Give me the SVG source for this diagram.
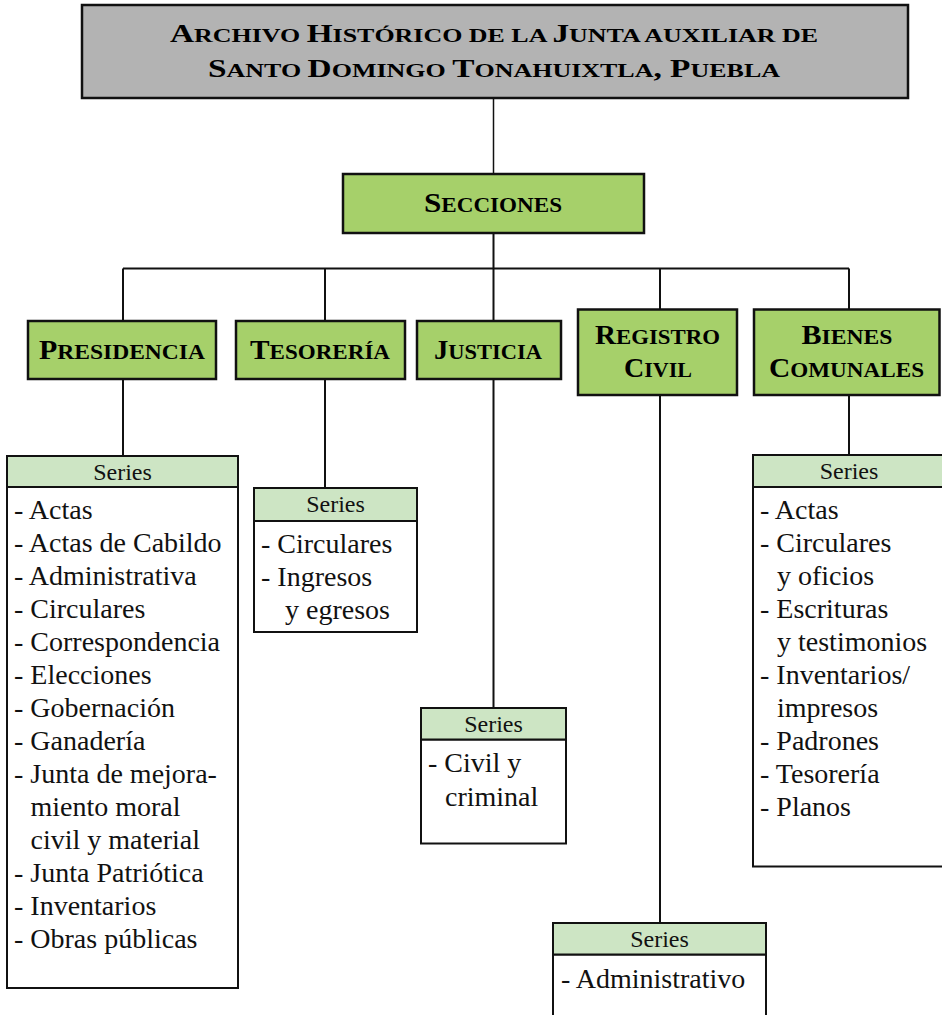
<svg xmlns="http://www.w3.org/2000/svg" width="942" height="1015" viewBox="0 0 942 1015">
<style>
.lbl{font-family:"Liberation Serif","Times New Roman",serif;font-weight:bold;fill:#000;text-anchor:middle}
.cap{font-size:28px}
.sm{font-size:22px}
.tcap{font-size:25px}
.tsm{font-size:19.5px}
.node{fill:#a6d06a;stroke:#111;stroke-width:2.5}
.title{fill:#b3b3b3;stroke:#111;stroke-width:2.5}
.shead{fill:#cde5c4;stroke:#111;stroke-width:2}
.sbody{fill:#fff;stroke:#111;stroke-width:2}
.st{font-family:"Liberation Serif","Times New Roman",serif;font-size:24px;fill:#111;text-anchor:middle}
.it{font-family:"Liberation Serif","Times New Roman",serif;font-size:28px;fill:#111}
.con{stroke:#111;stroke-width:2;fill:none}
</style>
<g id="connectors">
<line class="con" x1="493.5" y1="98" x2="493.5" y2="174" style="stroke-width:1.5"/>
<line class="con" x1="493.5" y1="233" x2="493.5" y2="321"/>
<line class="con" x1="123" y1="268.5" x2="849" y2="268.5"/>
<line class="con" x1="123" y1="268.5" x2="123" y2="321"/>
<line class="con" x1="325" y1="268.5" x2="325" y2="321"/>
<line class="con" x1="660" y1="268.5" x2="660" y2="309.5"/>
<line class="con" x1="849" y1="268.5" x2="849" y2="309.5"/>
<line class="con" x1="123" y1="379" x2="123" y2="456"/>
<line class="con" x1="325" y1="379" x2="325" y2="488"/>
<line class="con" x1="493.5" y1="379" x2="493.5" y2="708"/>
<line class="con" x1="660" y1="395" x2="660" y2="923"/>
<line class="con" x1="849" y1="395" x2="849" y2="455"/>
</g>
<g id="title">
<rect class="title" x="82" y="5" width="826" height="93"/>
<text class="lbl" x="494" y="42" textLength="648" lengthAdjust="spacingAndGlyphs"><tspan class="tcap">A</tspan><tspan class="tsm">RCHIVO </tspan><tspan class="tcap">H</tspan><tspan class="tsm">ISTÓRICO DE LA </tspan><tspan class="tcap">J</tspan><tspan class="tsm">UNTA AUXILIAR DE</tspan></text>
<text class="lbl" x="494" y="77" textLength="572" lengthAdjust="spacingAndGlyphs"><tspan class="tcap">S</tspan><tspan class="tsm">ANTO </tspan><tspan class="tcap">D</tspan><tspan class="tsm">OMINGO </tspan><tspan class="tcap">T</tspan><tspan class="tsm">ONAHUIXTLA</tspan><tspan class="tcap">, P</tspan><tspan class="tsm">UEBLA</tspan></text>
</g>
<g id="secciones">
<rect class="node" x="343" y="174" width="301" height="59"/>
<text class="lbl" x="493" y="212" textLength="138" lengthAdjust="spacingAndGlyphs"><tspan style="font-size:27px">S</tspan><tspan style="font-size:20px">ECCIONES</tspan></text>
</g>
<g id="presidencia">
<rect class="node" x="28" y="321" width="188" height="58"/>
<text class="lbl" x="122" y="359" textLength="166" lengthAdjust="spacingAndGlyphs"><tspan class="cap">P</tspan><tspan class="sm">RESIDENCIA</tspan></text>
</g>
<g id="tesoreria">
<rect class="node" x="236" y="321" width="169" height="58"/>
<text class="lbl" x="320" y="359" textLength="140" lengthAdjust="spacingAndGlyphs"><tspan class="cap">T</tspan><tspan class="sm">ESORERÍA</tspan></text>
</g>
<g id="justicia">
<rect class="node" x="417" y="321" width="144" height="58"/>
<text class="lbl" x="488" y="359" textLength="108" lengthAdjust="spacingAndGlyphs"><tspan class="cap">J</tspan><tspan class="sm">USTICIA</tspan></text>
</g>
<g id="registro-civil">
<rect class="node" x="578" y="309.5" width="159" height="85.5"/>
<text class="lbl" x="657.5" y="344" textLength="125" lengthAdjust="spacingAndGlyphs"><tspan class="cap">R</tspan><tspan class="sm">EGISTRO</tspan></text>
<text class="lbl" x="658" y="377" textLength="68" lengthAdjust="spacingAndGlyphs"><tspan class="cap">C</tspan><tspan class="sm">IVIL</tspan></text>
</g>
<g id="bienes-comunales">
<rect class="node" x="754" y="309.5" width="185.5" height="85.5"/>
<text class="lbl" x="847" y="344" textLength="91" lengthAdjust="spacingAndGlyphs"><tspan class="cap">B</tspan><tspan class="sm">IENES</tspan></text>
<text class="lbl" x="846.5" y="377" textLength="155" lengthAdjust="spacingAndGlyphs"><tspan class="cap">C</tspan><tspan class="sm">OMUNALES</tspan></text>
</g>
<g id="series-presidencia">
<rect class="sbody" x="7" y="487" width="231" height="501"/>
<rect class="shead" x="7" y="456" width="231" height="31"/>
<text class="st" x="122.5" y="480">Series</text>
<text class="it" x="14" y="519">- Actas</text>
<text class="it" x="14" y="552">- Actas de Cabildo</text>
<text class="it" x="14" y="585">- Administrativa</text>
<text class="it" x="14" y="618">- Circulares</text>
<text class="it" x="14" y="651">- Correspondencia</text>
<text class="it" x="14" y="684">- Elecciones</text>
<text class="it" x="14" y="717">- Gobernación</text>
<text class="it" x="14" y="750">- Ganadería</text>
<text class="it" x="14" y="783">- Junta de mejora-</text>
<text class="it" x="30.5" y="816">miento moral</text>
<text class="it" x="30.5" y="849">civil y material</text>
<text class="it" x="14" y="882">- Junta Patriótica</text>
<text class="it" x="14" y="915">- Inventarios</text>
<text class="it" x="14" y="948">- Obras públicas</text>
</g>
<g id="series-tesoreria">
<rect class="sbody" x="254" y="521" width="163" height="111"/>
<rect class="shead" x="254" y="488" width="163" height="33"/>
<text class="st" x="335.5" y="512">Series</text>
<text class="it" x="261" y="553">- Circulares</text>
<text class="it" x="261" y="586">- Ingresos</text>
<text class="it" x="285" y="619">y egresos</text>
</g>
<g id="series-justicia">
<rect class="sbody" x="421" y="739.5" width="145" height="104"/>
<rect class="shead" x="421" y="708" width="145" height="31.5"/>
<text class="st" x="493.5" y="732">Series</text>
<text class="it" x="428" y="772">- Civil y</text>
<text class="it" x="445" y="806">criminal</text>
</g>
<g id="series-registro-civil">
<rect class="sbody" x="553" y="954.5" width="213" height="70"/>
<rect class="shead" x="553" y="923" width="213" height="31.5"/>
<text class="st" x="659.5" y="947">Series</text>
<text class="it" x="561" y="988">- Administrativo</text>
</g>
<g id="series-bienes-comunales">
<rect class="sbody" x="753" y="487" width="192" height="379.5"/>
<rect class="shead" x="753" y="455" width="192" height="32"/>
<text class="st" x="849" y="479">Series</text>
<text class="it" x="760" y="519">- Actas</text>
<text class="it" x="760" y="552">- Circulares</text>
<text class="it" x="777" y="585">y oficios</text>
<text class="it" x="760" y="618">- Escrituras</text>
<text class="it" x="777" y="651">y testimonios</text>
<text class="it" x="760" y="684">- Inventarios/</text>
<text class="it" x="777" y="717">impresos</text>
<text class="it" x="760" y="750">- Padrones</text>
<text class="it" x="760" y="783">- Tesorería</text>
<text class="it" x="760" y="816">- Planos</text>
</g>
</svg>
